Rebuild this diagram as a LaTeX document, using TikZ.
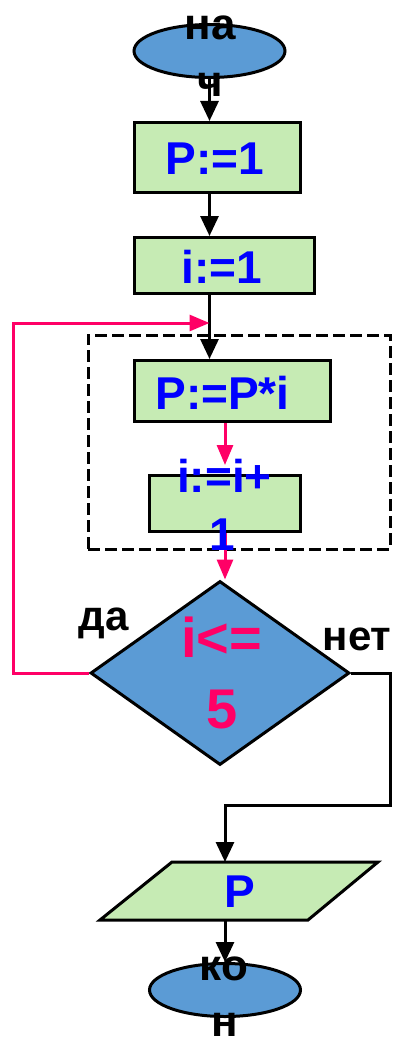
\documentclass[tikz,border=0pt]{standalone}
\usepackage{fontspec}
\setmainfont{Liberation Sans}
\usetikzlibrary{shapes.geometric,arrows.meta}
\definecolor{fillblue}{RGB}{91,155,213}
\definecolor{fillgreen}{RGB}{198,235,180}
\definecolor{looppink}{RGB}{255,0,102}
\definecolor{txtblue}{RGB}{0,0,255}
\begin{document}
\begin{tikzpicture}[x=1pt,y=-1pt,
  terminal/.style={ellipse, draw=black, line width=3pt, fill=fillblue, inner sep=0pt, minimum width=151pt, minimum height=53pt},
  procbox/.style={rectangle, draw=black, line width=3pt, fill=fillgreen, inner sep=0pt},
  decision/.style={diamond, draw=black, line width=3pt, fill=fillblue, inner sep=0pt, minimum width=259pt, minimum height=184pt},
  blktxt/.style={font=\fontsize{44}{50}\selectfont\bfseries, text=black, inner sep=0pt, anchor=base},
  bluetxt/.style={font=\fontsize{46}{50}\selectfont\bfseries, text=txtblue, inner sep=0pt, anchor=base},
  pinktxt/.style={font=\fontsize{56}{60}\selectfont\bfseries, text=looppink, inner sep=0pt, anchor=base},
  flow/.style={draw=black, line width=3pt, -{Triangle[length=20pt,width=18pt]}},
  pinkflow/.style={draw=looppink, line width=3pt, -{Triangle[length=20pt,width=16pt]}},
  bodybox/.style={draw=black, line width=3pt, dash pattern=on 12pt off 5pt, inner sep=0pt},
]
\useasboundingbox (0,0) rectangle (395,1038);
\fill[white] (0,0) rectangle (395,1038);

% loop body frame
\node[bodybox, minimum width=302pt, minimum height=214pt] (body) at (239,442) {};

% shapes
\node[terminal] (start) at (209.5,51) {};
\node[procbox, minimum width=166pt, minimum height=70pt] (p1) at (217.5,157.5) {};
\node[procbox, minimum width=180pt, minimum height=56pt] (i1) at (224.5,265.5) {};
\node[procbox, minimum width=196pt, minimum height=61pt] (ppi) at (232.5,391) {};
\node[procbox, minimum width=151pt, minimum height=56pt] (ipp) at (225,503.5) {};
\node[decision] (dec) at (220,673) {};
\draw[line width=3pt, fill=fillgreen] (172,862) -- (378,862) -- (308,920) -- (100,920) -- cycle;
\coordinate (paratop) at (225,862);
\coordinate (parabot) at (225,920);
\node[terminal] (stop) at (225,990) {};

% connectors
\draw[flow] (start.south) -- (start.south |- p1.north);
\draw[flow] (start.south |- p1.south) -- (start.south |- i1.north);
\draw[flow] (start.south |- i1.south) -- (start.south |- ppi.north);
\coordinate (loopin) at (209.5,323);
\draw[pinkflow] (dec.west) -| (13,323) -- (loopin);
\draw[pinkflow, shorten >=9pt] (ppi.south -| ipp.south) -- (ipp.north);
\draw[pinkflow] (ipp.south) -- (ipp.south |- dec.north);
\coordinate (jog) at (390,805);
\draw[flow] (dec.east) -| (jog) -| (paratop);
\draw[flow] (parabot) -- (stop.north);

% texts
\node[blktxt] (startA) at (210,39.5) {на};
\node[blktxt] (startB) at (210,96.5) {ч};
\node[bluetxt] (p1t) at (215,174) {P:=1};
\node[bluetxt] (i1t) at (221.8,283) {i:=1};
\node[bluetxt] (ppit) at (222.5,409) {P:=P*i};
\node[bluetxt] (ippA) at (224.5,492) {i:=i+};
\node[bluetxt] (ippB) at (222,550) {1};
\node[pinktxt] (decA) at (221.7,657) {i<=};
\node[pinktxt] (decB) at (222,728) {5};
\node[blktxt, font=\fontsize{42}{50}\selectfont\bfseries] (yes) at (103.5,630) {да};
\node[blktxt, font=\fontsize{42}{50}\selectfont\bfseries] (no) at (357,650) {нет};
\node[bluetxt] (parat) at (240,907) {P};
\node[blktxt] (stopA) at (224,980) {ко};
\node[blktxt] (stopB) at (224.5,1036) {н};
\end{tikzpicture}
\end{document}
